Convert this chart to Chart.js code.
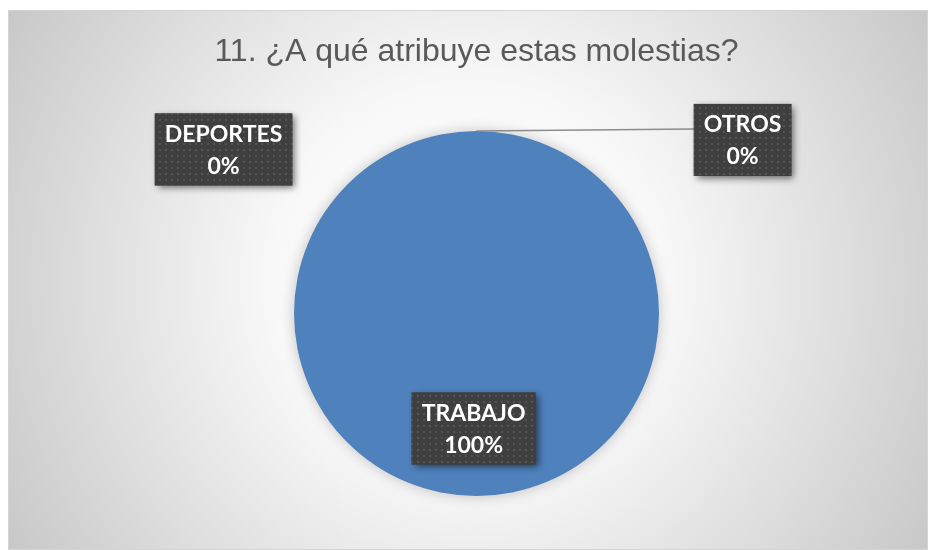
<!DOCTYPE html>
<html><head><meta charset="utf-8">
<script src="https://cdn.jsdelivr.net/npm/chart.js@4"></script>
<style>
html,body{margin:0;padding:0;background:#fff;width:928px;height:550px;overflow:hidden}
#wrap{position:absolute;left:8px;top:10px;width:920px;height:540px;}
</style></head>
<body><div id="wrap"><canvas id="c"></canvas></div>
<script>
const chartTitle = '11. ¿A qué atribuye estas molestias?';
const categories = ['TRABAJO', 'OTROS', 'DEPORTES'];
const values = [100, 0, 0];
const sliceColors = ['#4F81BD', '#C0504D', '#9BBB59'];
// label box offsets from pie centre, in units of the pie radius
const labelOffsets = [[-0.016, 0.63], [1.458, -0.951], [-1.386, -0.899]];
const leaderLines = [false, true, false];

const total = values.reduce((a, b) => a + b, 0);

const bgPlugin = {
  id: 'bg',
  beforeDraw(chart) {
    const ctx = chart.ctx, w = chart.width, h = chart.height;
    ctx.save();
    const g = ctx.createRadialGradient(w * 0.5, h * 0.5, 0, w * 0.5, h * 0.5, 560);
    g.addColorStop(0, '#ffffff');
    g.addColorStop(0.35, '#f8f8f8');
    g.addColorStop(1, '#c4c4c4');
    ctx.fillStyle = g;
    ctx.fillRect(0, 0, w, h);
    ctx.strokeStyle = '#d4d4d4';
    ctx.lineWidth = 1;
    ctx.strokeRect(0.5, 0.5, w - 1, h - 1);
    ctx.restore();
  },
  beforeDatasetsDraw(chart) {
    const ctx = chart.ctx;
    ctx.save();
    ctx.shadowColor = 'rgba(0,0,0,0.22)';
    ctx.shadowBlur = 14;
  },
  afterDatasetsDraw(chart) {
    chart.ctx.restore();
  }
};

function makePattern(ctx) {
  const p = document.createElement('canvas');
  p.width = 6; p.height = 6;
  const c = p.getContext('2d');
  c.fillStyle = '#3f3f3f';
  c.fillRect(0, 0, 6, 6);
  c.fillStyle = '#535353';
  c.fillRect(1, 1, 2, 2);
  return ctx.createPattern(p, 'repeat');
}

const labelPlugin = {
  id: 'boxLabels',
  afterDatasetsDraw(chart) {
    const ctx = chart.ctx;
    const meta = chart.getDatasetMeta(0);
    const pattern = makePattern(ctx);
    ctx.save();
    ctx.font = 'bold 23px Lato, "Open Sans", sans-serif';
    meta.data.forEach((arc, i) => {
      const r = arc.outerRadius;
      const cx = arc.x + labelOffsets[i][0] * r;
      const cy = arc.y + labelOffsets[i][1] * r;
      const pct = Math.round(values[i] / total * 100) + '%';
      const lines = [categories[i], pct];
      const tw = Math.max(...lines.map(t => ctx.measureText(t).width));
      const bw = tw + 20, bh = 72;
      const bx = cx - bw / 2, by = cy - bh / 2;
      if (leaderLines[i]) {
        const a = arc.startAngle;
        const px = arc.x + Math.cos(a) * r, py = arc.y + Math.sin(a) * r;
        ctx.strokeStyle = '#8c8c8c';
        ctx.lineWidth = 1.5;
        ctx.beginPath();
        ctx.moveTo(px, py);
        ctx.lineTo(bx, by + 25);
        ctx.stroke();
      }
      ctx.save();
      ctx.shadowColor = 'rgba(0,0,0,0.55)';
      ctx.shadowBlur = 7;
      ctx.shadowOffsetX = 3;
      ctx.shadowOffsetY = 3;
      ctx.fillStyle = '#3f3f3f';
      ctx.fillRect(bx, by, bw, bh);
      ctx.restore();
      ctx.fillStyle = pattern;
      ctx.fillRect(bx, by, bw, bh);
      ctx.fillStyle = '#ffffff';
      ctx.textAlign = 'center';
      ctx.textBaseline = 'middle';
      ctx.fillText(lines[0], cx, cy - 15);
      ctx.fillText(lines[1], cx, cy + 17);
    });
    ctx.restore();
  }
};

new Chart(document.getElementById('c'), {
  type: 'pie',
  data: {
    labels: categories,
    datasets: [{
      data: values,
      backgroundColor: sliceColors,
      borderWidth: 0
    }]
  },
  options: {
    responsive: true,
    maintainAspectRatio: false,
    animation: false,
    layout: { padding: { left: 17, right: 0, top: 0, bottom: 54 } },
    plugins: {
      legend: { display: false },
      tooltip: { enabled: false },
      title: {
        display: true,
        text: chartTitle,
        color: '#595959',
        font: { family: '"Liberation Sans", Arial, sans-serif', size: 32, weight: 'normal', lineHeight: 1.2 },
        padding: { top: 23, bottom: 59.6 }
      }
    }
  },
  plugins: [bgPlugin, labelPlugin]
});
</script>
</body></html>
